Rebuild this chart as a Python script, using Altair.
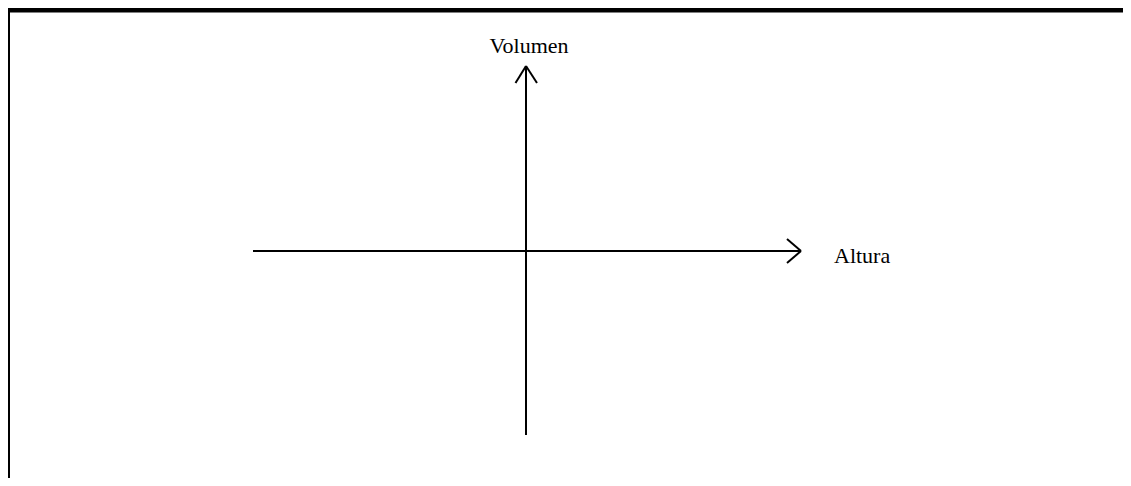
import altair as alt
import pandas as pd

# Diagram segments in page-pixel coordinates (x1, y1, x2, y2)
seg_x1 = [253, 801, 801, 526, 526, 526]
seg_y1 = [251, 251, 251, 435, 66, 66]
seg_x2 = [801, 787, 787, 526, 515.5, 537]
seg_y2 = [251, 239, 263, 66, 83, 83]

label_text = ["Volumen", "Altura"]
label_x = [529, 834]
label_y = [53, 263]
label_align = ["center", "left"]

frame_x1 = [8, 9]
frame_y1 = [10, 8]
frame_x2 = [1131, 9]
frame_y2 = [10, 486]
frame_w = [5, 2]

W, H = 1115, 470
xs = alt.Scale(domain=[8, 8 + W], nice=False, zero=False)
ys = alt.Scale(domain=[8, 8 + H], nice=False, zero=False, reverse=True)

segs = pd.DataFrame({"x": seg_x1, "y": seg_y1, "x2": seg_x2, "y2": seg_y2})
labels = pd.DataFrame({"t": label_text, "x": label_x, "y": label_y, "a": label_align})
frame = pd.DataFrame({"x": frame_x1, "y": frame_y1, "x2": frame_x2, "y2": frame_y2, "w": frame_w})

axes = alt.Chart(segs).mark_rule(color="black", strokeWidth=2, strokeCap="butt").encode(
    x=alt.X("x:Q", scale=xs, axis=None),
    y=alt.Y("y:Q", scale=ys, axis=None),
    x2="x2:Q",
    y2="y2:Q",
)

border = alt.Chart(frame).mark_rule(color="black", strokeCap="square").encode(
    x=alt.X("x:Q", scale=xs, axis=None),
    y=alt.Y("y:Q", scale=ys, axis=None),
    x2="x2:Q",
    y2="y2:Q",
    strokeWidth=alt.StrokeWidth("w:Q", scale=None, legend=None),
)

txt_c = alt.Chart(labels[labels.a == "center"]).mark_text(
    font="Liberation Serif", fontSize=22, color="black", align="center", baseline="alphabetic"
).encode(
    x=alt.X("x:Q", scale=xs, axis=None),
    y=alt.Y("y:Q", scale=ys, axis=None),
    text="t:N",
)
txt_l = alt.Chart(labels[labels.a == "left"]).mark_text(
    font="Liberation Serif", fontSize=22, color="black", align="left", baseline="alphabetic"
).encode(
    x=alt.X("x:Q", scale=xs, axis=None),
    y=alt.Y("y:Q", scale=ys, axis=None),
    text="t:N",
)

chart = alt.layer(border, axes, txt_c, txt_l).properties(
    width=W, height=H, autosize=alt.AutoSizeParams(type="none"), padding=0
).configure_view(stroke=None).configure(background="white")

chart.save("out.html", embed_options={"renderer": "svg", "actions": False})
